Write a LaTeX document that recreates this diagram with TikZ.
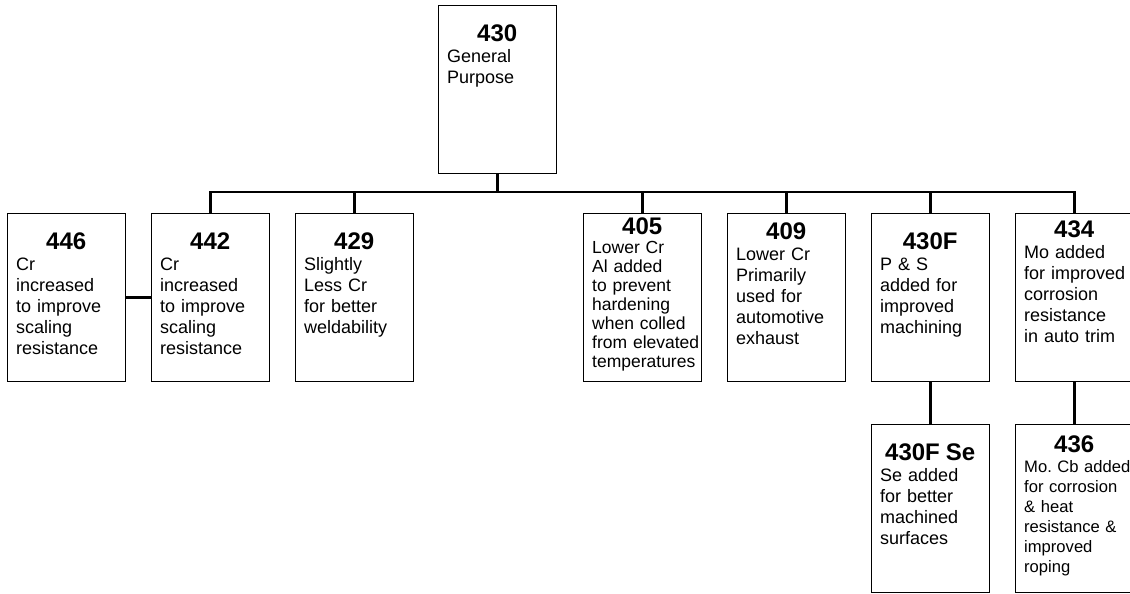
\documentclass[tikz,border=0pt]{standalone}
\usepackage{fontspec}
\setmainfont{Liberation Sans}
\usetikzlibrary{positioning}
\newcommand{\gradeno}[1]{\makebox[100pt]{\fontsize{24}{24}\selectfont\bfseries #1}}

\begin{document}
\begin{tikzpicture}[x=1pt,y=-1pt,
  grade/.style={draw,line width=1.1pt,minimum width=118pt,minimum height=168pt,anchor=north west,inner sep=0pt},
  note/.style={text width=130pt,align=left,inner sep=0pt,font=\fontsize{18}{21}\selectfont},
  link/.style={line width=2.4pt}]

	\useasboundingbox (0,0) rectangle (1130,594);

	\node[grade] (g430) at (438,5) {};
	\node[note, below right=20pt and 9pt of g430.north west] (t430) {\gradeno{430}\\General\\Purpose};

	\coordinate (bus) at (0,192);
	\draw[link] (g430.south) -- (g430.south |- bus);

	\node[grade] (g446) at (7,213) {};
	\node[note, below right=20pt and 9pt of g446.north west] (t446) {\gradeno{446}\\Cr\\increased\\to improve\\scaling\\resistance};

	\node[grade] (g442) at (151,213) {};
	\node[note, below right=20pt and 9pt of g442.north west] (t442) {\gradeno{442}\\Cr\\increased\\to improve\\scaling\\resistance};
	\draw[link] (g446.east) -- (g442.west);

	\node[grade] (g429) at (295,213) {};
	\node[note, below right=20pt and 9pt of g429.north west] (t429) {\gradeno{429}\\Slightly\\Less Cr\\for better\\weldability};

	\node[grade] (g405) at (583,213) {};
	\node[note, font=\fontsize{17.5}{19}\selectfont, below right=5pt and 9pt of g405.north west] (t405) {\gradeno{405}\\Lower Cr\\Al added\\to prevent\\hardening\\when colled\\from elevated\\temperatures};

	\node[grade] (g409) at (727,213) {};
	\node[note, below right=10pt and 9pt of g409.north west] (t409) {\gradeno{409}\\Lower Cr\\Primarily\\used for\\automotive\\exhaust};

	\node[grade] (g430F) at (871,213) {};
	\node[note, below right=20pt and 9pt of g430F.north west] (t430F) {\gradeno{430F}\\P \& S\\added for\\improved\\machining};

	\node[grade] (g434) at (1015,213) {};
	\node[note, below right=8pt and 9pt of g434.north west] (t434) {\gradeno{434}\\Mo added\\for improved\\corrosion\\resistance\\in auto trim};

	\draw[link] (g442.north) |- (bus -| g434.north) -- (g434.north);
	\draw[link] (g429.north) -- (g429.north |- bus);
	\draw[link] (g405.north) -- (g405.north |- bus);
	\draw[link] (g409.north) -- (g409.north |- bus);
	\draw[link] (g430F.north) -- (g430F.north |- bus);

	\node[grade] (g430FSe) at (871,424) {};
	\node[note, below right=20pt and 9pt of g430FSe.north west] (t430FSe) {\gradeno{430F Se}\\Se added\\for better\\machined\\surfaces};
	\draw[link] (g430F.south) -- (g430FSe.north);

	\node[grade] (g436) at (1015,424) {};
	\node[note, font=\fontsize{16.6}{20}\selectfont, below right=12pt and 9pt of g436.north west] (t436) {\gradeno{436}\\Mo.\ Cb added\\for corrosion\\\& heat\\resistance \&\\improved\\roping};
	\draw[link] (g434.south) -- (g436.north);

\end{tikzpicture}
\end{document}
